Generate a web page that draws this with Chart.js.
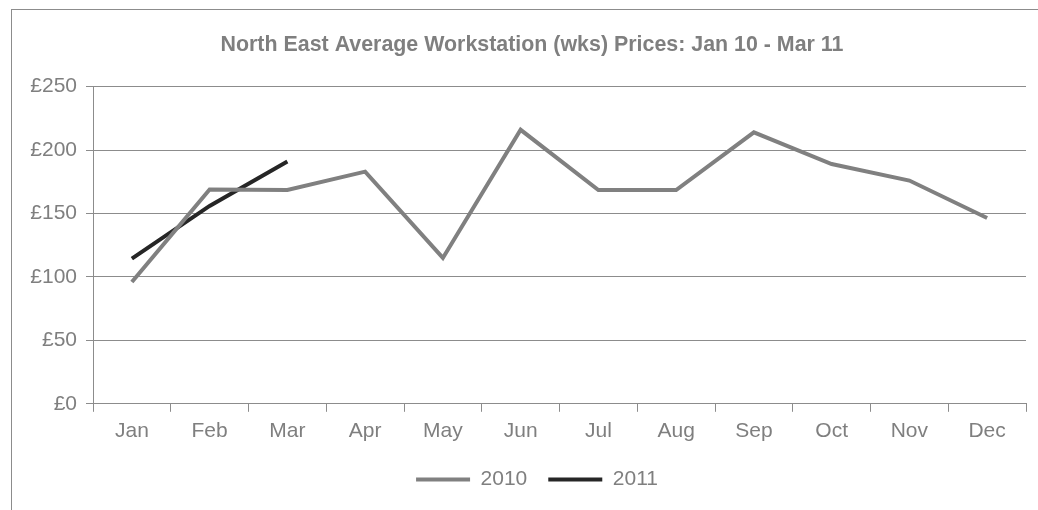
<!DOCTYPE html>
<html>
<head>
<meta charset="utf-8">
<script src="https://cdn.jsdelivr.net/npm/chart.js@4/dist/chart.umd.min.js"></script>
<style>
    html, body { margin: 0; padding: 0; background: #fff; overflow: hidden; }
    #wrap { position: relative; width: 1038px; height: 510px; }
    #frame { position: absolute; left: 11px; top: 9px; width: 2000px; height: 2000px; border: 1px solid #8c8c8c; }
    canvas { position: absolute; left: 0; top: 0; }
</style>
</head>
<body>
<div id="wrap">
    <div id="frame"></div>
    <canvas id="grafico" width="1038" height="510"></canvas>
</div>
<script>
// dados
const meses = ['Jan', 'Feb', 'Mar', 'Apr', 'May', 'Jun', 'Jul', 'Aug', 'Sep', 'Oct', 'Nov', 'Dec'];
const precos2010 = [96, 169, 168.5, 183, 115, 216, 168.5, 168.5, 214, 189, 176, 146.5];
const precos2011 = [114.5, 156, 191];
const ticksY = [0, 50, 100, 150, 200, 250];

const corTexto = '#7f7f7f';
const corGrade = '#8c8c8c';
const fonte = "'Liberation Sans', Arial, sans-serif";

//titulo e legenda centrados na moldura, nao no canvas inteiro
const ajusteBlocos = {
    id: 'ajusteBlocos',
    afterLayout: (chart) => {
        if (chart.titleBlock) {
            chart.titleBlock.left = 38;
        }
        if (chart.legend) {
            chart.legend.left = 48;
        }
    }
};

const config = {
    type: 'line',
    data: {
        labels: meses,
        datasets: [{
            label: '2010',
            data: precos2010,
            borderColor: '#808080',
            backgroundColor: '#808080',
            borderWidth: 4,
            pointRadius: 0,
            tension: 0
        }, {
            label: '2011',
            data: precos2011,
            borderColor: '#262626',
            backgroundColor: '#262626',
            borderWidth: 4,
            pointRadius: 0,
            tension: 0
        }]
    },
    options: {
        responsive: false,
        animation: false,
        layout: { padding: { left: 0, right: 12, top: 0, bottom: 10 } },
        plugins: {
            title: {
                display: true,
                text: 'North East Average Workstation (wks) Prices: Jan 10 - Mar 11',
                color: corTexto,
                font: { family: fonte, size: 21.4, weight: 'bold' },
                padding: { top: 32, bottom: 29 }
            },
            legend: {
                position: 'bottom',
                labels: {
                    color: corTexto,
                    font: { family: fonte, size: 21 },
                    usePointStyle: true,
                    pointStyle: 'line',
                    pointStyleWidth: 54,
                    padding: 21
                }
            },
            tooltip: { enabled: false }
        },
        scales: {
            x: {
                offset: true,
                afterFit: (scale) => {
                    scale.height = scale.height - 3;
                },
                grid: {
                    offset: true,
                    drawOnChartArea: false,
                    drawTicks: true,
                    tickLength: 8,
                    color: corGrade
                },
                border: { color: corGrade, width: 1 },
                ticks: {
                    color: corTexto,
                    font: { family: fonte, size: 21 },
                    padding: 7,
                    maxRotation: 0
                }
            },
            y: {
                min: 0,
                max: 250,
                afterBuildTicks: (scale) => {
                    scale.ticks = ticksY.map(v => ({ value: v }));
                },
                afterFit: (scale) => {
                    scale.width = 93;
                },
                grid: {
                    color: corGrade,
                    tickLength: 7
                },
                border: { color: corGrade, width: 1 },
                ticks: {
                    color: corTexto,
                    font: { family: fonte, size: 21 },
                    padding: 9,
                    callback: (v) => '£' + v
                }
            }
        }
    },
    plugins: [ajusteBlocos]
};

var grafico = new Chart(document.getElementById('grafico'), config);
</script>
</body>
</html>
